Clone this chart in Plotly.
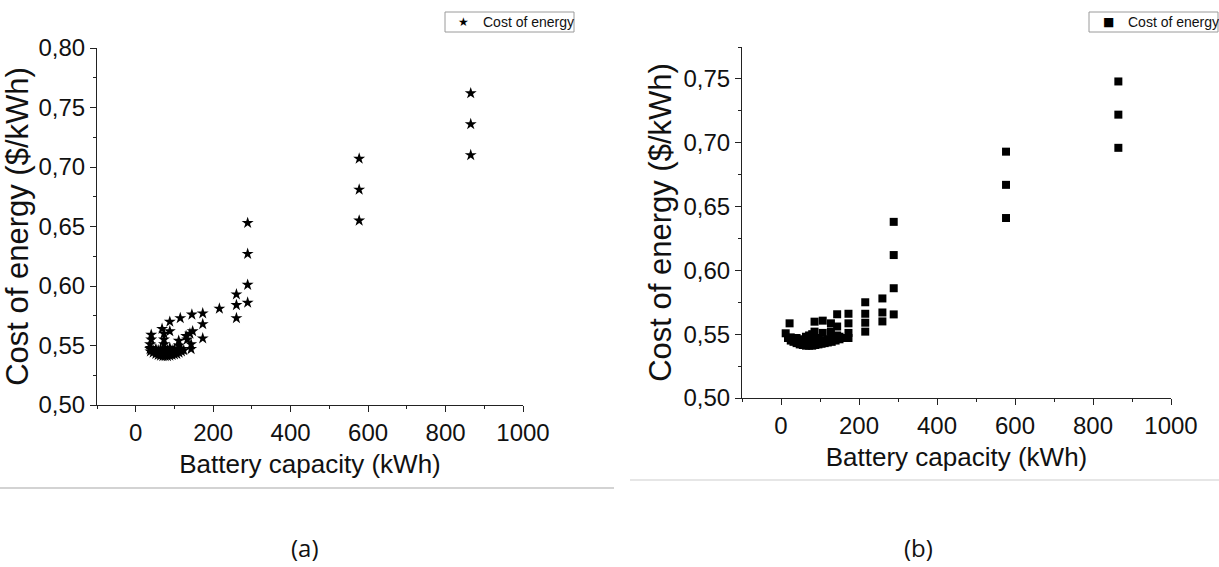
import plotly.graph_objects as go

# ---- panel (a): star markers ----
a_capacity = [865, 865, 865, 577, 577, 577, 289, 289, 289, 289, 260, 260, 260, 216,
              173, 173, 173, 145, 147, 140, 143, 143, 130, 133, 115, 111, 111, 88, 88,
              68, 73, 73, 73, 40, 40, 37, 37,
              38, 38, 45, 45, 52, 52, 52, 58, 58, 58, 64, 64, 64, 64, 70, 70, 70,
              76, 76, 76, 76, 82, 82, 82, 88, 88, 88, 88, 94, 94, 94, 100, 100, 100,
              106, 106, 112, 112, 118, 118, 124]
a_cost = [0.762, 0.736, 0.710, 0.707, 0.681, 0.655, 0.653, 0.627, 0.601, 0.586,
          0.593, 0.584, 0.573, 0.581, 0.577, 0.568, 0.556, 0.576, 0.562, 0.560,
          0.551, 0.547, 0.558, 0.555, 0.573, 0.554, 0.550, 0.570, 0.562, 0.564,
          0.560, 0.555, 0.551, 0.559, 0.555, 0.551, 0.547,
          0.545, 0.548, 0.544, 0.546, 0.543, 0.545, 0.547, 0.542, 0.544, 0.546,
          0.5415, 0.543, 0.545, 0.547, 0.541, 0.543, 0.545, 0.541, 0.5425, 0.545,
          0.547, 0.541, 0.543, 0.546, 0.5415, 0.543, 0.545, 0.548, 0.542, 0.544,
          0.546, 0.5425, 0.545, 0.547, 0.543, 0.545, 0.544, 0.546, 0.545, 0.547,
          0.546]

# ---- panel (b): square markers ----
b_capacity = [865, 865, 865, 577, 577, 577, 289, 289, 289, 289, 260, 260, 260,
              216, 216, 216, 216, 173, 173, 173, 173, 144, 144, 144, 128, 128, 128,
              107, 107, 86, 86, 22, 12,
              18, 25, 25, 32, 32, 40, 40, 40, 48, 48, 48, 56, 56, 56, 64, 64, 64, 64,
              72, 72, 72, 72, 80, 80, 80, 80, 88, 88, 88, 96, 96, 96, 104, 104,
              112, 112, 120, 120, 130, 130, 140, 140, 150, 150, 160]
b_cost = [0.748, 0.722, 0.696, 0.693, 0.667, 0.641, 0.638, 0.612, 0.586, 0.5655,
          0.578, 0.567, 0.560, 0.575, 0.566, 0.559, 0.552, 0.566, 0.5585, 0.551,
          0.547, 0.5656, 0.556, 0.549, 0.5585, 0.552, 0.546, 0.5606, 0.551,
          0.5598, 0.552, 0.5585, 0.5507,
          0.547, 0.545, 0.5475, 0.544, 0.546, 0.543, 0.545, 0.547, 0.542, 0.544,
          0.546, 0.5415, 0.5435, 0.5455, 0.541, 0.543, 0.545, 0.548, 0.541, 0.543,
          0.545, 0.549, 0.541, 0.543, 0.545, 0.550, 0.5415, 0.5435, 0.546, 0.542,
          0.544, 0.547, 0.5425, 0.5445, 0.543, 0.545, 0.5435, 0.546, 0.544,
          0.5465, 0.545, 0.547, 0.546, 0.548, 0.547]

series_name = "Cost of energy"
x_title = "Battery capacity (kWh)"
y_title = "Cost of energy ($/kWh)"
panel_labels = ["(a)", "(b)"]
legend_symbols = ["★", "■"]

W, H = 1219, 567
SANS = "Liberation Sans"
INK = "#111"

fig = go.Figure()
fig.add_trace(go.Scatter(
    x=a_capacity, y=a_cost, mode="markers", name=series_name, showlegend=False,
    marker=dict(symbol="star", size=9, color="black", line=dict(width=0)),
    xaxis="x", yaxis="y"))
fig.add_trace(go.Scatter(
    x=b_capacity, y=b_cost, mode="markers", name=series_name, showlegend=False,
    marker=dict(symbol="square", size=8, color="black", line=dict(width=0)),
    xaxis="x2", yaxis="y2"))


def px_x(p):
    return p / W


def px_y(p):
    return 1 - p / H


axis_common = dict(
    showline=True, linecolor="#222", linewidth=1, mirror=False,
    showgrid=False, zeroline=False, automargin=False,
    ticks="outside", ticklen=6, tickwidth=1, tickcolor="#222",
    tickfont=dict(family=SANS, size=24, color=INK),
)

xcommon = dict(axis_common, range=[-100, 1000], dtick=200, tick0=0,
               minor=dict(ticks="outside", ticklen=3, dtick=100, tickcolor="#222"),
               title=dict(text=x_title, font=dict(family=SANS, size=26, color=INK),
                          standoff=10))

ycommon_minor = dict(ticks="outside", ticklen=3, dtick=0.025, tickcolor="#222")

# framed legend boxes, one per panel: (left, right, top, bottom) in pixels
legend_boxes = [(445, 574, 12, 32), (1089, 1218, 12, 32)]
legend_symbol_x = [463, 1108]
legend_text_x = [481, 1126]

shapes = [
    dict(type="line", xref="paper", yref="paper",
         x0=0, x1=px_x(614), y0=px_y(488), y1=px_y(488),
         line=dict(color="#c4c4c4", width=1.5)),
    dict(type="line", xref="paper", yref="paper",
         x0=px_x(630), x1=1, y0=px_y(480), y1=px_y(480),
         line=dict(color="#dedede", width=1.5)),
]
annotations = []
for (l, r, t, b), sym, sx, tx in zip(legend_boxes, legend_symbols,
                                     legend_symbol_x, legend_text_x):
    shapes.append(dict(type="rect", xref="paper", yref="paper",
                       x0=px_x(l), x1=px_x(r), y0=px_y(b), y1=px_y(t),
                       line=dict(color="#9a9a9a", width=1), fillcolor="white"))
    annotations.append(dict(text=sym, x=px_x(sx), y=px_y((t + b) / 2),
                            xref="paper", yref="paper", showarrow=False,
                            xanchor="center", yanchor="middle",
                            font=dict(family="DejaVu Sans", size=12, color="black")))
    annotations.append(dict(text=series_name, x=px_x(tx), y=px_y((t + b) / 2),
                            xref="paper", yref="paper", showarrow=False,
                            xanchor="left", yanchor="middle",
                            font=dict(family=SANS, size=14, color=INK)))

for label, cx in zip(panel_labels, [305, 918]):
    annotations.append(dict(text=label, x=px_x(cx), y=px_y(547), xref="paper",
                            yref="paper", showarrow=False,
                            xanchor="center", yanchor="middle",
                            font=dict(family="Open Sans", size=24, color=INK)))

fig.update_layout(
    width=W, height=H, autosize=False,
    margin=dict(l=0, r=0, t=0, b=0, autoexpand=False),
    paper_bgcolor="white", plot_bgcolor="white",
    separators=",.",
    xaxis=dict(xcommon, domain=[px_x(97), px_x(523)], anchor="y"),
    yaxis=dict(axis_common, domain=[px_y(405), px_y(48)], anchor="x",
               range=[0.50, 0.80], dtick=0.05, tick0=0.5, tickformat=".2f",
               minor=ycommon_minor,
               title=dict(text=y_title, font=dict(family=SANS, size=31, color=INK),
                          standoff=2)),
    xaxis2=dict(xcommon, domain=[px_x(742), px_x(1171)], anchor="y2"),
    yaxis2=dict(axis_common, domain=[px_y(398), px_y(47)], anchor="x2",
                range=[0.50, 0.775], dtick=0.05, tick0=0.5, tickformat=".2f",
                minor=ycommon_minor,
                title=dict(text=y_title, font=dict(family=SANS, size=31, color=INK),
                           standoff=2)),
    shapes=shapes,
    annotations=annotations,
)

fig.write_html("out.html")
